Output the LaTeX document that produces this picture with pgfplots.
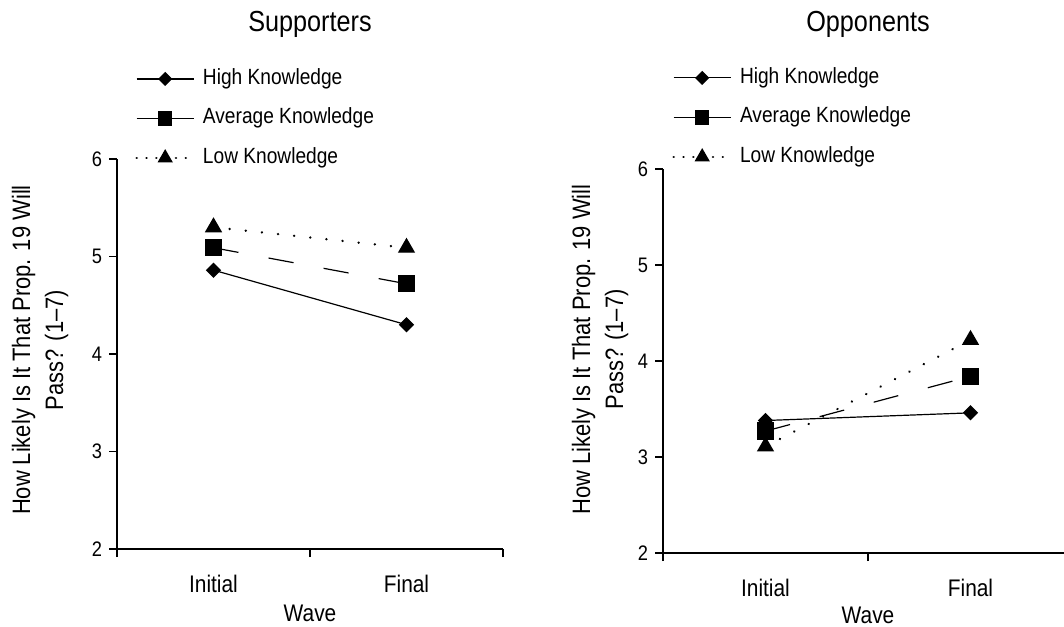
\documentclass[border=0pt]{standalone}
\usepackage{fontspec}
\setmainfont{Liberation Sans}[FakeStretch=0.87]
\usepackage{pgfplots}
\pgfplotsset{compat=1.18}

\pgfplotsset{
  common/.style={
    scale only axis,
    axis x line*=bottom, axis y line*=left,
    xmin=0, xmax=2, ymin=2, ymax=6,
    ytick={2,3,4,5,6},
    xtick={0,1,2}, xticklabels={},
    extra x ticks={0.5,1.5}, extra x tick labels={Initial,Final},
    extra x tick style={major tick length=0pt, tick label style={font=\fontsize{12}{14}\selectfont, anchor=center, yshift=-17.5pt}},
    tick align=outside, major tick length=4pt,
    /pgf/number format/assume math mode=true,
    yticklabel style={font=\fontsize{10.5}{12}\selectfont},
    axis line style={line width=0.6pt, black},
    tick style={line width=0.6pt, black},
    every axis plot/.append style={line width=0.6pt, black},
    legend cell align=left,
    legend style={draw=none, fill=none, inner sep=0pt, row sep=9.25pt,
      font=\fontsize{11}{13}\selectfont,
      nodes={inner sep=0pt, text height=8pt, text depth=2.5pt},
      /tikz/every odd column/.append style={column sep=4pt}},
    title style={font=\fontsize{14.5}{17}\selectfont, anchor=center},
    xlabel={Wave},
    ylabel={How Likely Is It That Prop. 19 Will\\Pass? (1–7)},
    clip=false,
  },
  hi/.style={solid, mark=square*, mark size=2.4pt, mark options={rotate=45, solid, fill=black},
    legend image code/.code={\draw[mark repeat=2,mark phase=2,##1, mark size=2.2pt] plot coordinates {(0pt,0pt) (14.25pt,0pt) (28.5pt,0pt)};}},
  av/.style={dash pattern=on 12.7pt off 15.3pt, mark=square*, mark size=4pt, mark options={solid, fill=black},
    legend image code/.code={\draw[mark repeat=2,mark phase=2,##1,solid, mark size=3.3pt] plot coordinates {(0pt,0pt) (14.25pt,0pt) (28.5pt,0pt)};}},
  lo/.style={line width=1.3pt, line cap=round, dash pattern=on 0.01pt off 8.1pt, mark=triangle*, mark size=4.4pt, mark options={solid, fill=black, line width=0.6pt},
    legend image code/.code={\draw[mark repeat=2,mark phase=2,##1,dash pattern=on 0.01pt off 4.9pt, mark size=3.8pt] plot coordinates {(0pt,0pt) (14.25pt,0pt) (28.5pt,0pt)};}},
}

\begin{document}
\begin{tikzpicture}
\begin{axis}[common,
  at={(0pt,0pt)}, anchor=south west,
  width=193pt, height=195pt,
  title={Supporters},
  title style={at={(axis description cs:0.5,1)}, yshift=61.5pt},
  every axis y label/.style={at={(axis description cs:-0.1995,0.51)}, rotate=90, anchor=center, align=center, font=\fontsize{12.6}{16.5}\selectfont},
  every axis x label/.style={at={(axis description cs:0.5,0)}, anchor=center, yshift=-32pt, font=\fontsize{12}{14}\selectfont},
  legend style={at={(axis description cs:0,1)}, anchor=north west, xshift=9pt, yshift=45.5pt},
]
\addplot[hi] coordinates {(0.5,4.86) (1.5,4.30)};
\addlegendentry{High Knowledge}
\addplot[av] coordinates {(0.5,5.09) (1.5,4.72)};
\addlegendentry{Average Knowledge}
\addplot[lo] coordinates {(0.5,5.30) (1.5,5.09)};
\addlegendentry{Low Knowledge}
\end{axis}

\begin{axis}[common,
  at={(273pt,-2pt)}, anchor=south west,
  width=205pt, height=192pt,
  title={Opponents},
  title style={at={(axis description cs:0.5,1)}, yshift=66.5pt},
  every axis y label/.style={at={(axis description cs:-0.1537,0.53)}, rotate=90, anchor=center, align=center, font=\fontsize{12.6}{16.5}\selectfont},
  every axis x label/.style={at={(axis description cs:0.5,0)}, anchor=center, yshift=-31pt, font=\fontsize{12}{14}\selectfont},
  legend style={at={(axis description cs:0,1)}, anchor=north west, xshift=4.5pt, yshift=51pt},
]
\addplot[hi] coordinates {(0.5,3.38) (1.5,3.46)};
\addlegendentry{High Knowledge}
\addplot[av] coordinates {(0.5,3.27) (1.5,3.84)};
\addlegendentry{Average Knowledge}
\addplot[lo] coordinates {(0.5,3.11) (1.5,4.22)};
\addlegendentry{Low Knowledge}
\end{axis}
\pgfresetboundingbox
\useasboundingbox (-58.5pt,-38.5pt) rectangle (473.5pt,274.5pt);
\end{tikzpicture}
\end{document}
